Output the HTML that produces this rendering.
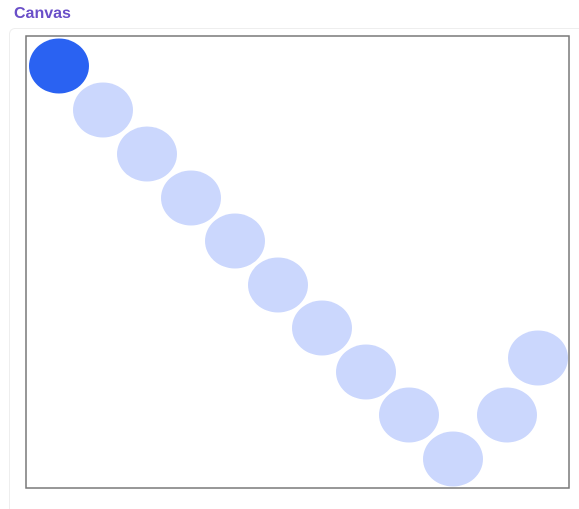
<!DOCTYPE html>
<html><head><meta charset="utf-8"><style>
body{margin:0;width:579px;height:496px;background:#fff;font-family:"Liberation Sans",Arial,sans-serif;overflow:hidden;position:relative}
#title{position:absolute;left:14px;top:5px;font-size:16px;font-weight:bold;color:#6a4fc8}
#panel{position:absolute;left:9px;top:28px;width:580px;height:480px;border-left:1px solid #eee;border-top:1px solid #eee;border-radius:6px 0 0 0}
#cv{position:absolute;left:25px;top:35px}
</style></head><body>
<div id="title">Canvas</div>
<div id="panel"></div>
<svg id="cv" width="546" height="456">
<rect x="1" y="1" width="543" height="452" fill="#fff" stroke="#777" stroke-width="1.5"/>
<g id="marks"></g>
</svg>
<script>
const xs=[33,77,121,165,209,252,296,340,383,427,481,512];
const ys=[30,74,118,162,205,249,292,336,379,423,379,322];
const active=[1,0,0,0,0,0,0,0,0,0,0,0];
const sx=v=>v+1, sy=v=>v+1;
const g=document.getElementById('marks');
for(let i=xs.length-1;i>=0;i--){
  const e=document.createElementNS('http://www.w3.org/2000/svg','ellipse');
  e.setAttribute('cx',sx(xs[i]));e.setAttribute('cy',sy(ys[i]));
  e.setAttribute('rx',30);e.setAttribute('ry',27.5);
  e.setAttribute('fill',active[i]?'#2a62f2':'#cbd7fd');
  
  
  g.appendChild(e);
}
</script>
</body></html>
